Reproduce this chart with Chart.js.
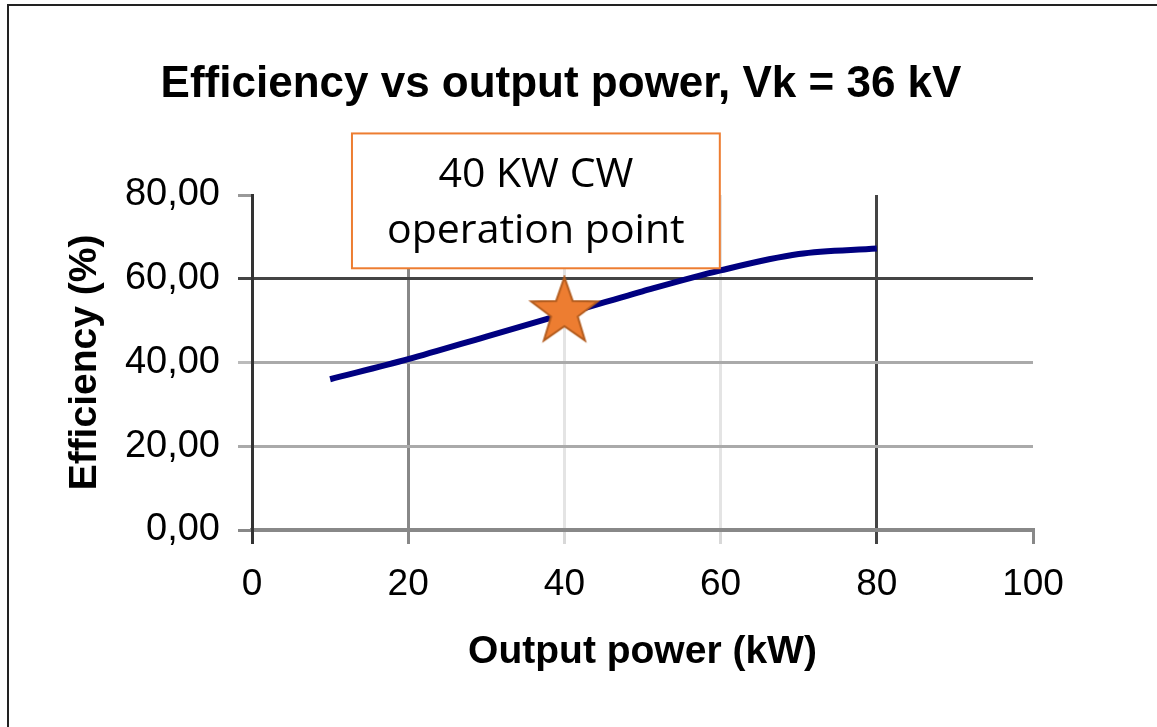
<!DOCTYPE html>
<html>
<head>
<meta charset="utf-8">
<script src="https://cdn.jsdelivr.net/npm/chart.js@4/dist/chart.umd.min.js"></script>
<style>
  html, body { margin: 0; padding: 0; background: #fff; overflow: hidden; }
  canvas { display: block; }
</style>
</head>
<body>
<canvas id="effChart" width="1157" height="727"></canvas>
<script>
// data
const powerKw = [10, 20, 30, 40, 50, 60, 70, 80];
const efficiency = [36.0, 40.8, 46.2, 51.6, 57.0, 62.0, 65.9, 67.2];
const opPower = [40];
const opEfficiency = [52];
const xTicks = [0, 20, 40, 60, 80, 100];
const yTicks = [0, 20, 40, 60, 80];

const FONT = '"Liberation Sans", Arial, sans-serif';
Chart.defaults.font.family = FONT;
Chart.defaults.color = '#000';

// filled orange star used as the marker of the operation point
function makeStar(r) {
  const c = document.createElement('canvas');
  const size = Math.ceil(r * 2 + 4);
  c.width = size; c.height = size;
  const g = c.getContext('2d');
  const cx = size / 2, cy = size / 2;
  g.beginPath();
  for (let i = 0; i < 10; i++) {
    const rad = i % 2 === 0 ? r : r * 0.4;
    const a = -Math.PI / 2 + i * Math.PI / 5;
    const px = cx + rad * Math.cos(a), py = cy + rad * Math.sin(a);
    if (i === 0) g.moveTo(px, py); else g.lineTo(px, py);
  }
  g.closePath();
  g.fillStyle = '#ED7D31';
  g.fill();
  g.lineWidth = 2;
  g.strokeStyle = '#B35C1E';
  g.stroke();
  return c;
}
const starImg = makeStar(35);

const xGrid = { 0: '#333', 20: '#888', 40: '#e4e4e4', 60: '#e4e4e4', 80: '#444', 100: 'rgba(0,0,0,0)' };
const xTickCol = { 0: '#333', 20: '#888', 40: '#d8d8d8', 60: '#d8d8d8', 80: '#444', 100: '#888' };
const yGrid = { 0: '#888', 20: '#aaa', 40: '#aaa', 60: '#444', 80: 'rgba(0,0,0,0)' };
const yTickCol = { 0: '#888', 20: '#aaa', 40: '#bbb', 60: '#444', 80: '#999' };

// frame, title and call-out box
const decor = {
  id: 'decor',
  beforeDraw(chart) {
    const ctx = chart.ctx;
    ctx.save();
    ctx.strokeStyle = '#222';
    ctx.lineWidth = 2;
    ctx.beginPath();
    ctx.moveTo(8, 727);
    ctx.lineTo(8, 5);
    ctx.lineTo(1157, 5);
    ctx.stroke();
    ctx.fillStyle = '#000';
    ctx.font = 'bold 44px ' + FONT;
    ctx.textAlign = 'center';
    ctx.textBaseline = 'alphabetic';
    ctx.fillText('Efficiency vs output power, Vk = 36 kV', 561, 97);
    ctx.restore();
  },
  afterDraw(chart) {
    const ctx = chart.ctx;
    const { x, y } = chart.scales;
    const left = x.getPixelForValue(12.8), right = x.getPixelForValue(59.9);
    const top = y.getPixelForValue(94.7), bottom = y.getPixelForValue(62.5);
    ctx.save();
    ctx.fillStyle = '#fff';
    ctx.fillRect(left, top, right - left, bottom - top);
    ctx.strokeStyle = '#ED7D31';
    ctx.lineWidth = 2;
    ctx.strokeRect(left, top, right - left, bottom - top);
    ctx.fillStyle = '#000';
    ctx.font = '41px "Open Sans", "Noto Sans", sans-serif';
    ctx.textAlign = 'center';
    ctx.textBaseline = 'middle';
    const cx = (left + right) / 2;
    ctx.fillText('40 KW CW', cx, top + 42);
    ctx.fillText('operation point', cx, top + 98);
    ctx.restore();
  }
};

new Chart(document.getElementById('effChart'), {
  type: 'scatter',
  data: {
    datasets: [{
      label: '40 KW CW operation point',
      data: opPower.map((v, i) => ({ x: v, y: opEfficiency[i] })),
      pointStyle: starImg,
      order: 0
    }, {
      label: 'Efficiency',
      data: powerKw.map((v, i) => ({ x: v, y: efficiency[i] })),
      showLine: true,
      borderColor: '#000080',
      borderWidth: 6,
      pointRadius: 0,
      cubicInterpolationMode: 'monotone',
      order: 1
    }]
  },
  options: {
    responsive: false,
    animation: false,
    devicePixelRatio: 1,
    layout: { padding: { left: 10, right: 124, top: 195, bottom: 47 } },
    plugins: {
      legend: { display: false },
      tooltip: { enabled: false },
      title: { display: false }
    },
    scales: {
      x: {
        type: 'linear',
        min: 0, max: 100,
        afterFit: (s) => { s.height = 150; },
        afterBuildTicks: (s) => { s.ticks = xTicks.map(v => ({ value: v })); },
        ticks: { font: { size: 37 }, padding: 19, color: '#000' },
        grid: {
          lineWidth: 3,
          tickLength: 14,
          color: (c) => xGrid[c.tick.value] || '#888',
          tickColor: (c) => xTickCol[c.tick.value] || '#888'
        },
        border: { color: '#888', width: 4 },
        title: {
          display: true,
          text: 'Output power (kW)',
          font: { size: 39, weight: 'bold' },
          padding: { top: 0, bottom: 4 }
        }
      },
      y: {
        type: 'linear',
        min: 0, max: 80,
        afterFit: (s) => { s.width = 242; },
        afterBuildTicks: (s) => { s.ticks = yTicks.map(v => ({ value: v })); },
        ticks: {
          font: { size: 38 },
          padding: 18,
          color: '#000',
          callback: (v) => v.toFixed(2).replace('.', ',')
        },
        grid: {
          lineWidth: 3,
          tickLength: 14,
          color: (c) => yGrid[c.tick.value] || '#aaa',
          tickColor: (c) => yTickCol[c.tick.value] || '#aaa'
        },
        border: { color: '#333', width: 3 },
        title: {
          display: true,
          text: 'Efficiency (%)',
          font: { size: 39, weight: 'bold' },
          padding: { top: 52, bottom: 0 }
        }
      }
    }
  },
  plugins: [decor]
});
</script>
</body>
</html>
